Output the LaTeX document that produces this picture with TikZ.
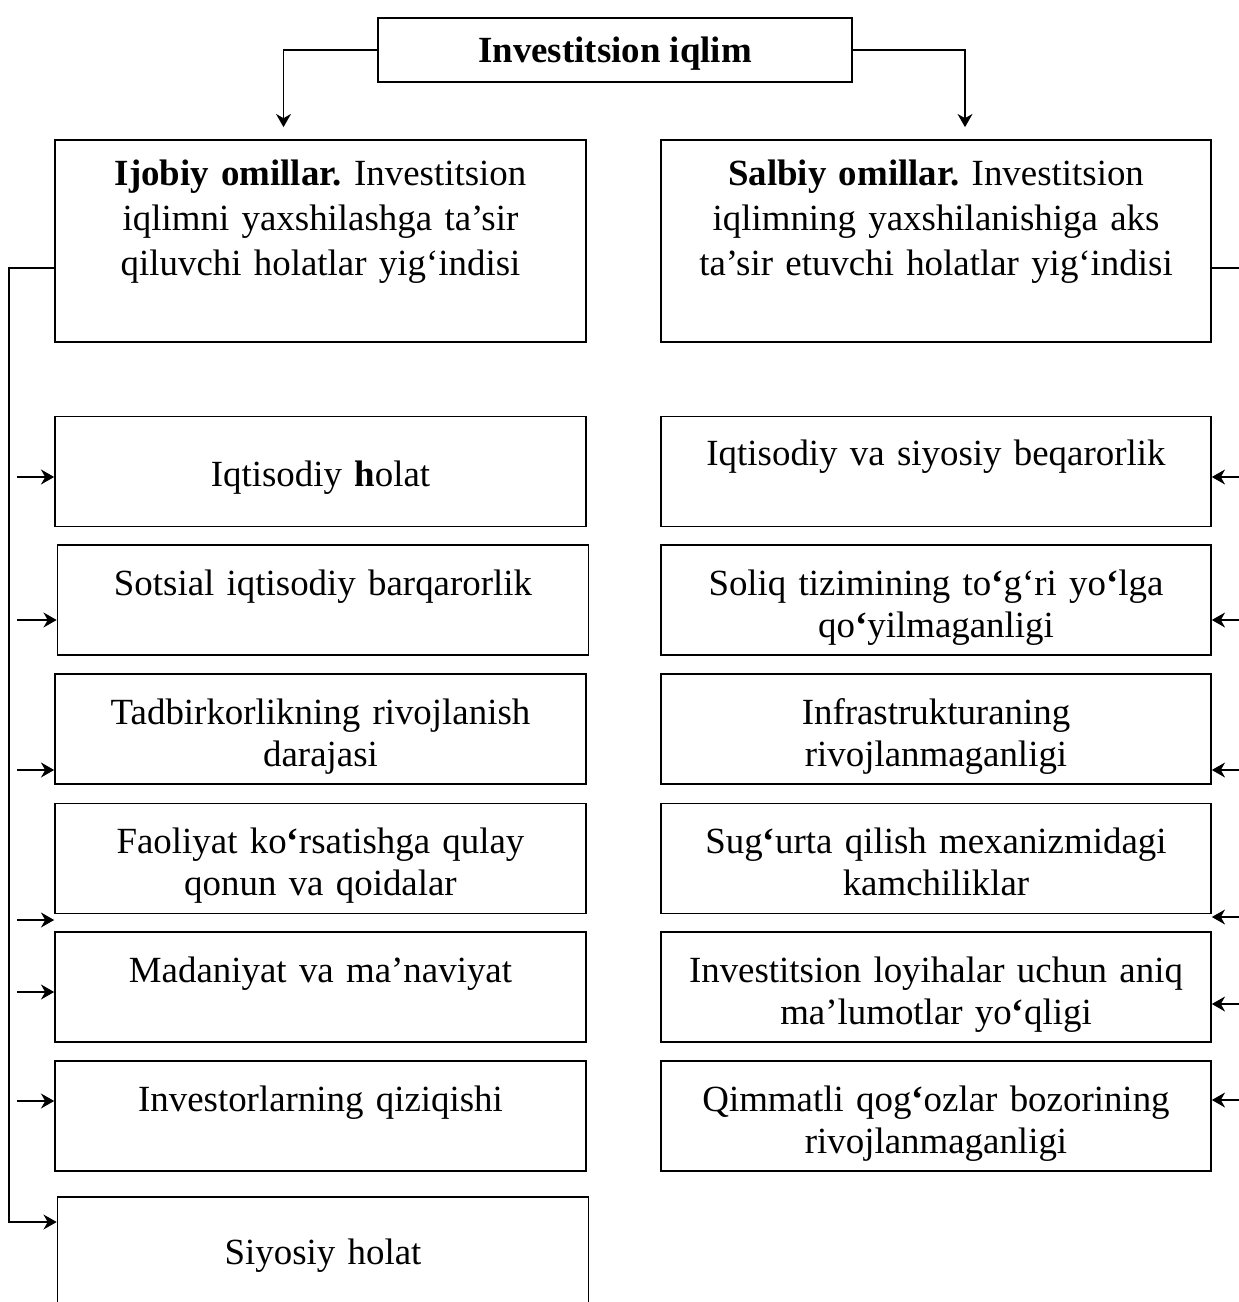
\documentclass[tikz,border=0pt]{standalone}
\usepackage{fontspec}
\setmainfont{Liberation Serif}
\frenchspacing
\usetikzlibrary{arrows.meta,positioning,calc}

\tikzset{
  box/.style={draw, line width=1pt, inner sep=0pt, minimum height=2.2cm},
  lbox/.style={box, minimum width=10.62cm},
  rbox/.style={box, minimum width=11cm},
  txt/.style={text width=10.4cm, align=center, inner sep=0pt, anchor=base,
    font=\fontsize{21}{24.15}\selectfont},
  arr/.style={line width=1pt, -{Stealth[length=7.5pt,width=8.5pt,inset=2.4pt]}},
  line/.style={line width=1pt}
}

\begin{document}
\begin{tikzpicture}[x=0.02cm, y=-0.02cm]
    \useasboundingbox (0,0) rectangle (1239,1302);

    % bosh blok
    \node[box, minimum width=9.48cm, minimum height=1.28cm, text height=18.8pt, text depth=4.6pt,
      font=\fontsize{21}{24.15}\selectfont\bfseries] (top) at (615,50) {Investitsion iqlim};

    % ijobiy va salbiy omillar
    \node[lbox, minimum height=4.04cm] (ltop) at (320.5,241) {};
    \node[rbox, minimum height=4.04cm] (rtop) at (936,241) {};
    \node[txt, font=\fontsize{21}{25.8}\selectfont] (ltopt) at (320.5,185)
      {\textbf{Ijobiy omillar.} Investitsion\\iqlimni yaxshilashga ta’sir\\qiluvchi holatlar yig‘indisi};
    \node[txt, font=\fontsize{21}{25.8}\selectfont] (rtopt) at (936,185)
      {\textbf{Salbiy omillar.} Investitsion\\iqlimning yaxshilanishiga aks\\ta’sir etuvchi holatlar yig‘indisi};

    % ijobiy omillar ro'yxati
    \node[lbox] (l1) at (320.5,471.5) {};
    \node[lbox] (l2) at (323,600) {};
    \node[lbox] (l3) at (320.5,729) {};
    \node[lbox] (l4) at (320.5,858.5) {};
    \node[lbox] (l5) at (320.5,987) {};
    \node[lbox] (l6) at (320.5,1116) {};
    \node[lbox, minimum height=2.4cm] (l7) at (323,1257) {};
    \node[txt] (l1t) at (320.5,486) {Iqtisodiy \textbf{h}olat};
    \node[txt] (l2t) at (323,595) {Sotsial iqtisodiy barqarorlik};
    \node[txt] (l3t) at (320.5,724) {Tadbirkorlikning rivojlanish\\darajasi};
    \node[txt] (l4t) at (320.5,853) {Faoliyat ko{\bfseries ‘}rsatishga qulay\\qonun va qoidalar};
    \node[txt] (l5t) at (320.5,982) {Madaniyat va ma’naviyat};
    \node[txt] (l6t) at (320.5,1111) {Investorlarning qiziqishi};
    \node[txt] (l7t) at (323,1264) {Siyosiy holat};

    % salbiy omillar ro'yxati
    \node[rbox] (r1) at (936,471.5) {};
    \node[rbox] (r2) at (936,600) {};
    \node[rbox] (r3) at (936,729) {};
    \node[rbox] (r4) at (936,858.5) {};
    \node[rbox] (r5) at (936,987) {};
    \node[rbox] (r6) at (936,1116) {};
    \node[txt] (r1t) at (936,465) {Iqtisodiy va siyosiy beqarorlik};
    \node[txt] (r2t) at (936,595) {Soliq tizimining to{\bfseries ‘}g‘ri yo{\bfseries ‘}lga\\qo{\bfseries ‘}yilmaganligi};
    \node[txt] (r3t) at (936,724) {Infrastrukturaning\\rivojlanmaganligi};
    \node[txt] (r4t) at (936,853) {Sug{\bfseries ‘}urta qilish mexanizmidagi\\kamchiliklar};
    \node[txt] (r5t) at (936,982) {Investitsion loyihalar uchun aniq\\ma’lumotlar yo{\bfseries ‘}qligi};
    \node[txt] (r6t) at (936,1111) {Qimmatli qog{\bfseries ‘}ozlar bozorining\\rivojlanmaganligi};

    % ulanishlar
    \coordinate (trunkL) at (9,268);
    \coordinate (trunkR) at (1239,268);
    \draw[arr] (top.west) -| ($(ltop.north)+(-37,-12)$);
    \draw[arr] (top.east) -| ($(rtop.north)+(29,-12)$);
    \draw[arr] (ltop.west |- trunkL) -- (trunkL) |- ($(l7.west)+(0,-35)$);
    \draw[line] (rtop.east |- trunkR) -- (trunkR);
    \foreach \b/\d in {l1/5.5, l2/20, l3/41, l4/61.5, l5/5, l6/-15}
        \draw[arr] ($(trunkL |- \b.west)+(8,\d)$) -- ($(\b.west)+(0,\d)$);
    \foreach \b/\d in {r1/5.5, r2/20, r3/41, r4/58.5, r5/17, r6/-16}
        \draw[arr] ($(trunkR |- \b.east)+(0,\d)$) -- ($(\b.east)+(0,\d)$);
\end{tikzpicture}
\end{document}
